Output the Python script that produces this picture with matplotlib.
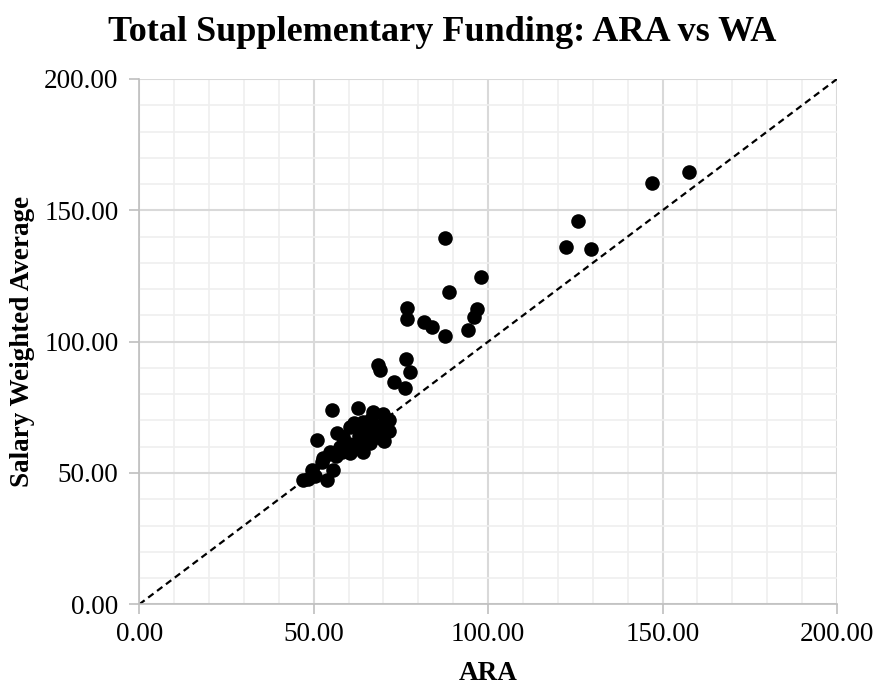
import matplotlib
matplotlib.use("Agg")
import matplotlib.pyplot as plt
import numpy as np

ara = [157.6, 146.9, 125.7, 122.3, 129.5, 87.5, 97.9, 88.9, 76.8, 76.7, 81.7, 83.8,
       87.5, 96.9, 96.0, 94.1, 76.5, 77.6, 68.3, 68.9, 73.0, 76.2,
       55.2, 62.6, 67.1, 69.8, 71.7, 71.6, 70.2, 69.2, 68.1, 66.4, 65.2, 64.0,
       62.8, 61.5, 60.4, 58.5, 56.6, 50.9, 57.5, 60.0, 62.3, 64.2, 60.4, 63.5,
       66.0, 54.7, 56.5, 52.8, 52.3, 55.6, 49.4, 50.5, 46.8, 48.5, 53.7, 58.0,
       66.5, 68.5, 63.0]
wa = [164.7, 160.3, 146.1, 136.2, 135.3, 139.3, 124.7, 119.0, 112.7, 108.5, 107.6, 105.5,
      102.2, 112.3, 109.3, 104.4, 93.3, 88.6, 91.3, 89.3, 84.8, 82.2,
      73.8, 74.8, 73.2, 72.6, 70.0, 66.0, 62.2, 64.5, 63.8, 66.0, 65.1, 69.5,
      67.2, 69.0, 67.6, 63.8, 65.1, 62.6, 60.0, 61.0, 61.3, 57.8, 57.5, 59.5,
      61.5, 58.1, 56.5, 55.6, 54.3, 51.1, 51.1, 49.0, 47.3, 47.8, 47.3, 58.0,
      70.5, 68.0, 64.0]
major_ticks = [0, 50, 100, 150, 200]
minor_ticks = list(range(0, 201, 10))
tick_labels = ["0.00", "50.00", "100.00", "150.00", "200.00"]

plt.rcParams['font.family'] = ['Liberation Serif', 'DejaVu Serif']

fig = plt.figure(figsize=(8.8, 6.93), dpi=100)
ax = fig.add_axes([139.3/880, 1-604.3/693, (837-139.3)/880, (604.3-79)/693])

ax.set_xlim(0, 200)
ax.set_ylim(0, 200)
ax.set_xticks(major_ticks)
ax.set_yticks(major_ticks)
ax.set_xticks(minor_ticks, minor=True)
ax.set_yticks(minor_ticks, minor=True)
ax.set_xticklabels(tick_labels, fontsize=19.5)
ax.set_yticklabels(tick_labels, fontsize=19.5)

ax.grid(which='minor', color='#efefef', linewidth=1.2, zorder=0)
ax.grid(which='major', color='#d9d9d9', linewidth=1.5, zorder=0)
ax.set_axisbelow(True)

for s in ['top', 'right']:
    ax.spines[s].set_visible(False)
for s in ['left', 'bottom']:
    ax.spines[s].set_color('#bfbfbf')
    ax.spines[s].set_linewidth(1.2)

ax.tick_params(which='major', direction='out', length=7, width=1.2, color='#bfbfbf')
ax.tick_params(axis='y', which='major', pad=8)
ax.tick_params(axis='x', which='major', pad=6)
ax.tick_params(which='minor', length=0)

ax.plot([0, 200], [0, 200], color='black', linestyle=(0, (3, 2)), linewidth=1.6, zorder=2)
ax.scatter(ara, wa, s=110, color='black', zorder=3, linewidths=0)

fig.text(0.502, 1-41/693, "Total Supplementary Funding: ARA vs WA", ha='center', va='baseline',
         fontsize=26, fontweight='bold')
fig.text(488/880, 1-674/693, "ARA", ha='center', va='center', fontsize=19.5, fontweight='bold')
fig.text(23/880, 1-341/693, "Salary Weighted Average", ha='center', va='center',
         fontsize=19.5, fontweight='bold', rotation=90)

fig.savefig("out.png", dpi=100)
